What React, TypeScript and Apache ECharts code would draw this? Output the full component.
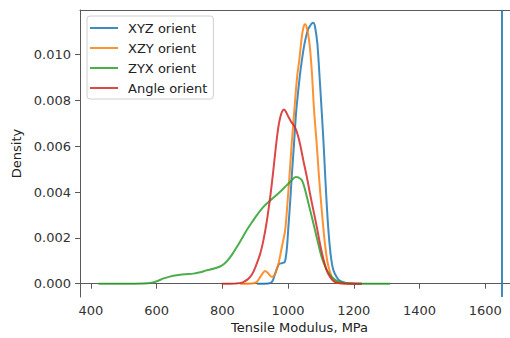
import React, { useEffect, useRef } from "react";
import * as echarts from "echarts";

const SERIES_NAMES = ["XYZ orient", "XZY orient", "ZYX orient", "Angle orient"];
const COLORS = ["#1f77b4", "#ff7f0e", "#2ca02c", "#d62728"];

const X_TICKS = [400, 600, 800, 1000, 1200, 1400, 1600];
const Y_TICKS = [0, 0.002, 0.004, 0.006, 0.008, 0.01];
const X_MIN = 367;
const X_MAX = 1675;
const Y_MIN = -0.00058;
const Y_MAX = 0.01194;
const XYZ_VLINE = 1650;

const xyz: [number, number][] = [
  [905, 0], [940, 0.00001], [952, 0.0001], [962, 0.0005], [972, 0.00085], [982, 0.0009],
  [990, 0.00095], [996, 0.0015], [1001, 0.0025], [1006, 0.0035], [1011, 0.00466],
  [1018, 0.0061], [1024, 0.0074], [1030, 0.0083], [1036, 0.0091], [1042, 0.00975],
  [1049, 0.0104], [1055, 0.0108], [1061, 0.0111], [1067, 0.01125], [1072, 0.01135],
  [1077, 0.01138], [1082, 0.0112], [1089, 0.01048], [1095, 0.0092], [1102, 0.00757],
  [1108, 0.0061], [1113, 0.00466], [1119, 0.0031], [1126, 0.00175], [1132, 0.001],
  [1138, 0.00058], [1148, 0.00028], [1158, 0.00012], [1175, 0.00003], [1200, 0], [1225, 0],
];

const xzy: [number, number][] = [
  [854, 0], [890, 0.00001], [905, 0.00008], [918, 0.00035], [930, 0.00055], [940, 0.00045],
  [950, 0.0003], [958, 0.00035], [965, 0.0006], [971, 0.00088], [981, 0.0016], [991, 0.00233],
  [998, 0.0035], [1004, 0.00466], [1011, 0.0061], [1017, 0.0072], [1023, 0.0083],
  [1028, 0.0091], [1034, 0.00975], [1042, 0.0108], [1047, 0.0112], [1052, 0.01132],
  [1058, 0.0111], [1065, 0.01048], [1072, 0.0093], [1079, 0.00757], [1087, 0.0061],
  [1094, 0.00466], [1103, 0.0031], [1112, 0.00175], [1119, 0.001], [1126, 0.00058],
  [1135, 0.00022], [1145, 0.00007], [1165, 0.00001], [1200, 0],
];

const zyx: [number, number][] = [
  [423, 0], [500, 0], [560, 0.00001], [585, 0.00004], [603, 0.00012], [621, 0.00023],
  [640, 0.00031], [661, 0.00037], [685, 0.00041], [712, 0.00044], [733, 0.0005],
  [753, 0.00059], [775, 0.00066], [793, 0.00075], [806, 0.00087], [818, 0.00105],
  [831, 0.0013], [844, 0.0016], [859, 0.00196], [874, 0.00233], [890, 0.00268],
  [905, 0.00299], [925, 0.00335], [950, 0.00368], [975, 0.004], [992, 0.00424],
  [1006, 0.00444], [1016, 0.00459], [1023, 0.00466], [1031, 0.00464], [1042, 0.00451],
  [1052, 0.00408], [1062, 0.0035], [1072, 0.00292], [1082, 0.00233], [1092, 0.00173],
  [1102, 0.00117], [1115, 0.00068], [1128, 0.00037], [1143, 0.00017], [1158, 0.00008],
  [1180, 0.00002], [1220, 0], [1310, 0],
];

const angle: [number, number][] = [
  [798, 0], [840, 0.00001], [862, 0.00006], [878, 0.0002], [890, 0.0004], [900, 0.0007],
  [915, 0.0013], [925, 0.0019], [935, 0.0027], [943, 0.0035], [950, 0.0043], [957, 0.0052],
  [963, 0.006], [970, 0.0068], [976, 0.00725], [982, 0.00752], [988, 0.0076], [994, 0.00748],
  [1001, 0.00728], [1010, 0.00705], [1018, 0.0069], [1026, 0.00665], [1036, 0.00612],
  [1046, 0.0054], [1057, 0.00466], [1067, 0.0039], [1077, 0.0032], [1087, 0.0025],
  [1097, 0.00175], [1107, 0.0011], [1117, 0.00059], [1128, 0.00028], [1138, 0.00012],
  [1150, 0.00004], [1170, 0.00001], [1224, 0],
];

const DATASETS = [xyz, xzy, zyx, angle];

const FONT = "DejaVu Sans";
const SPINE = "#5a5a5a";

export default function App() {
  const ref = useRef<HTMLDivElement>(null);

  useEffect(() => {
    if (!ref.current) return;
    const chart = echarts.init(ref.current, undefined, { renderer: "svg" });

    const series: any[] = DATASETS.map((data, i) => ({
      name: SERIES_NAMES[i],
      type: "line",
      data,
      xAxisIndex: 0,
      yAxisIndex: 0,
      symbol: "none",
      smooth: 0.3,
      lineStyle: { color: COLORS[i], width: 2, opacity: 0.85 },
      itemStyle: { color: COLORS[i], opacity: 0.85 },
      z: 2 + i,
      ...(i === 0
        ? {
            markLine: {
              silent: true,
              symbol: "none",
              label: { show: false },
              lineStyle: { color: COLORS[0], width: 2, type: "solid", opacity: 0.85 },
              data: [{ xAxis: XYZ_VLINE }],
            },
          }
        : {}),
    }));

    chart.setOption({
      animation: false,
      grid: { left: 80, right: 0, top: 10, bottom: 41, containLabel: false },
      legend: {
        orient: "vertical",
        left: 87,
        top: 16,
        data: SERIES_NAMES,
        icon: "rect",
        itemWidth: 28,
        itemHeight: 2,
        itemGap: 6,
        padding: [5, 6, 4, 3],
        borderColor: "#d0d0d0",
        borderWidth: 1,
        borderRadius: 3,
        backgroundColor: "rgba(255,255,255,0.8)",
        textStyle: {
          fontFamily: FONT,
          fontSize: 13,
          color: "#222",
          lineHeight: 14,
          padding: [0, 0, 0, 5],
        },
      },
      xAxis: [
        {
          type: "value",
          min: X_MIN,
          max: X_MAX,
          position: "bottom",
          splitLine: { show: false },
          axisLine: { show: true, lineStyle: { color: SPINE, width: 1 } },
          axisTick: {
            show: true,
            length: 5,
            customValues: X_TICKS,
            lineStyle: { color: SPINE, width: 1 },
          },
          axisLabel: {
            customValues: X_TICKS,
            margin: 7,
            fontFamily: FONT,
            fontSize: 13,
            color: "#333",
            formatter: (v: number) => String(v),
          },
        },
        {
          type: "value",
          min: X_MIN,
          max: X_MAX,
          position: "top",
          splitLine: { show: false },
          axisLine: { show: true, onZero: false, lineStyle: { color: SPINE, width: 1 } },
          axisTick: { show: false },
          axisLabel: { show: false },
        },
      ],
      yAxis: {
        type: "value",
        min: Y_MIN,
        max: Y_MAX,
        name: "Density",
        nameLocation: "middle",
        nameGap: 52,
        nameTextStyle: { fontFamily: FONT, fontSize: 13, color: "#222" },
        splitLine: { show: false },
        axisLine: { show: true, onZero: false, lineStyle: { color: SPINE, width: 1 } },
        axisTick: {
          show: true,
          length: 5,
          customValues: Y_TICKS,
          lineStyle: { color: SPINE, width: 1 },
        },
        axisLabel: {
          customValues: Y_TICKS,
          margin: 9,
          fontFamily: FONT,
          fontSize: 13,
          color: "#333",
          formatter: (v: number) => v.toFixed(3),
        },
      },
      graphic: [
        {
          type: "text",
          left: 231,
          top: 321,
          style: {
            text: "Tensile Modulus, MPa",
            fontFamily: FONT,
            fontSize: 13,
            fill: "#222",
          },
        },
      ],
      series,
    });

    return () => chart.dispose();
  }, []);

  return (
    <div
      ref={ref}
      style={{ position: "absolute", left: 0, top: 0, width: 510, height: 338 }}
    />
  );
}
